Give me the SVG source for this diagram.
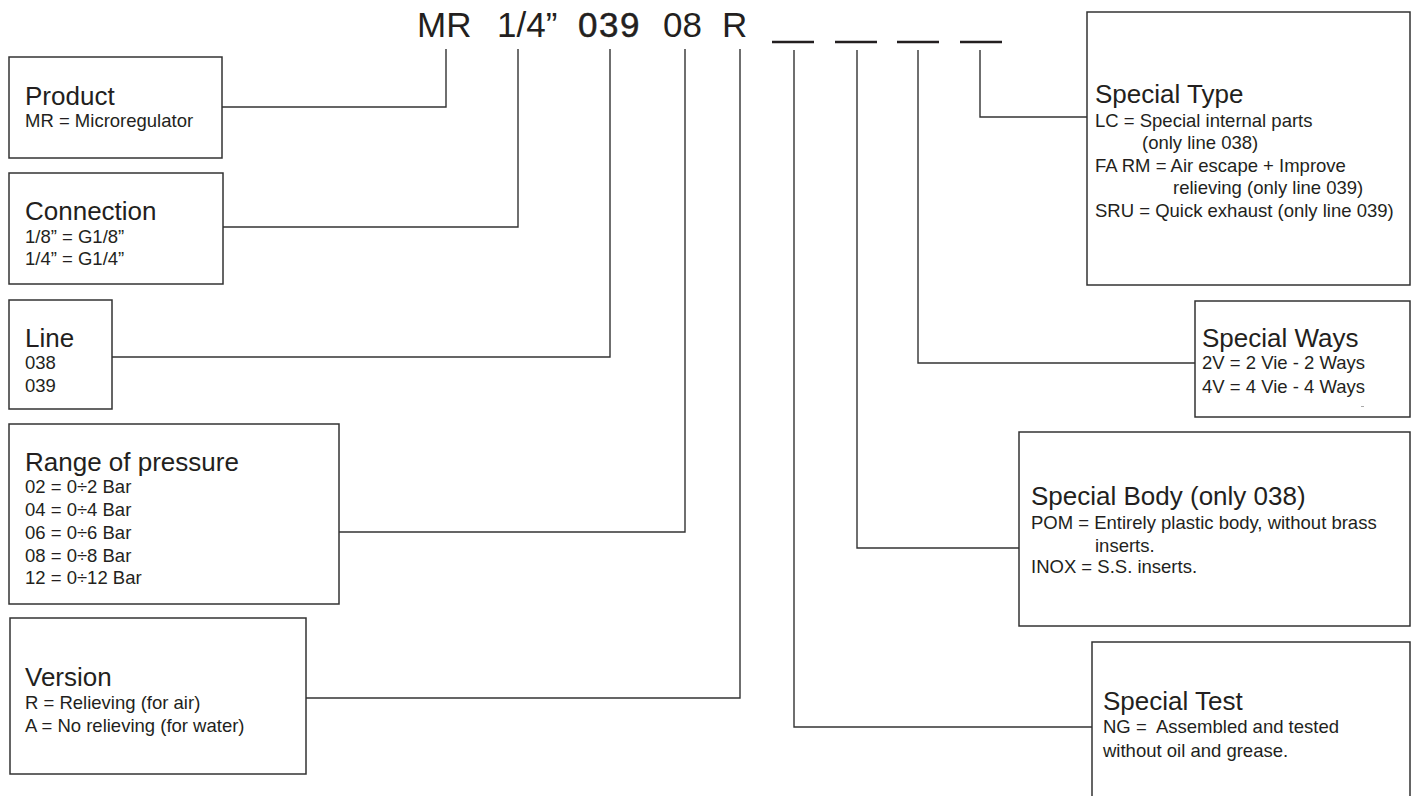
<svg xmlns="http://www.w3.org/2000/svg" width="1413" height="796" viewBox="0 0 1413 796">
<style>
.box{fill:#fff;stroke:#333;stroke-width:1.5}
.con{fill:none;stroke:#333;stroke-width:1.4}
.us{stroke:#231f20;stroke-width:2.5}
text{font-family:"Liberation Sans",Arial,Helvetica,sans-serif;fill:#231f20}
.hd{font-size:35px}
.t{font-size:26px}
.b{font-size:18.5px}
</style>
<rect width="1413" height="796" fill="#fff"/>
<g id="header">
<text class="hd" x="417" y="37">MR</text>
<text class="hd" x="497" y="37">1/4”</text>
<text class="hd" x="578" y="37" stroke="#231f20" stroke-width="0.5" letter-spacing="1.5">039</text>
<text class="hd" x="663" y="37">08</text>
<text class="hd" x="722" y="37">R</text>
<line class="us" x1="772" y1="42" x2="814" y2="42"/>
<line class="us" x1="835" y1="42" x2="877" y2="42"/>
<line class="us" x1="897" y1="42" x2="939" y2="42"/>
<line class="us" x1="960" y1="42" x2="1002" y2="42"/>
</g>
<g id="connectors">
<path class="con" d="M446 49V107H222"/>
<path class="con" d="M518 49V227H223"/>
<path class="con" d="M610 49V357H112"/>
<path class="con" d="M685 49V532H339"/>
<path class="con" d="M740 49V698H306"/>
<path class="con" d="M794 50V727H1092"/>
<path class="con" d="M857 50V548H1019"/>
<path class="con" d="M918 50V363H1195"/>
<path class="con" d="M980 50V117H1087"/>
</g>
<g id="product">
<rect class="box" x="9" y="57" width="213" height="101"/>
<text class="t" x="25" y="105">Product</text>
<text class="b" x="25" y="127">MR = Microregulator</text>
</g>
<g id="connection">
<rect class="box" x="9" y="173" width="214" height="111"/>
<text class="t" x="25" y="220">Connection</text>
<text class="b" x="25" y="243">1/8” = G1/8”</text>
<text class="b" x="25" y="265">1/4” = G1/4”</text>
</g>
<g id="line">
<rect class="box" x="9" y="300" width="103" height="109"/>
<text class="t" x="25" y="347">Line</text>
<text class="b" x="25" y="369">038</text>
<text class="b" x="25" y="392">039</text>
</g>
<g id="range">
<rect class="box" x="9" y="424" width="330" height="180"/>
<text class="t" x="25" y="471">Range of pressure</text>
<text class="b" x="25" y="493">02 = 0÷2 Bar</text>
<text class="b" x="25" y="516">04 = 0÷4 Bar</text>
<text class="b" x="25" y="539">06 = 0÷6 Bar</text>
<text class="b" x="25" y="562">08 = 0÷8 Bar</text>
<text class="b" x="25" y="584">12 = 0÷12 Bar</text>
</g>
<g id="version">
<rect class="box" x="10" y="618" width="296" height="156"/>
<text class="t" x="25" y="686">Version</text>
<text class="b" x="25" y="709">R = Relieving (for air)</text>
<text class="b" x="25" y="732">A = No relieving (for water)</text>
</g>
<g id="special-type">
<rect class="box" x="1087" y="12" width="323" height="273"/>
<text class="t" x="1095" y="103">Special Type</text>
<text class="b" x="1095" y="127">LC = Special internal parts</text>
<text class="b" x="1142" y="149">(only line 038)</text>
<text class="b" x="1095" y="172">FA RM = Air escape + Improve</text>
<text class="b" x="1173" y="194">relieving (only line 039)</text>
<text class="b" x="1095" y="217">SRU = Quick exhaust (only line 039)</text>
</g>
<g id="special-ways">
<rect class="box" x="1195" y="301" width="215" height="116"/>
<text class="t" x="1202" y="347">Special Ways</text>
<text class="b" x="1202" y="369">2V = 2 Vie - 2 Ways</text>
<text class="b" x="1202" y="393">4V = 4 Vie - 4 Ways</text>
<line x1="1361" y1="406.5" x2="1364" y2="406.5" stroke="#aaa" stroke-width="1"/>
</g>
<g id="special-body">
<rect class="box" x="1019" y="432" width="391" height="194"/>
<text class="t" x="1031" y="505">Special Body (only 038)</text>
<text class="b" x="1031" y="529">POM = Entirely plastic body, without brass</text>
<text class="b" x="1095" y="552">inserts.</text>
<text class="b" x="1031" y="573">INOX = S.S. inserts.</text>
</g>
<g id="special-test">
<rect class="box" x="1092" y="642" width="318" height="170"/>
<text class="t" x="1103" y="710">Special Test</text>
<text class="b" x="1103" y="733" xml:space="preserve">NG =  Assembled and tested</text>
<text class="b" x="1103" y="757">without oil and grease.</text>
</g>
</svg>
